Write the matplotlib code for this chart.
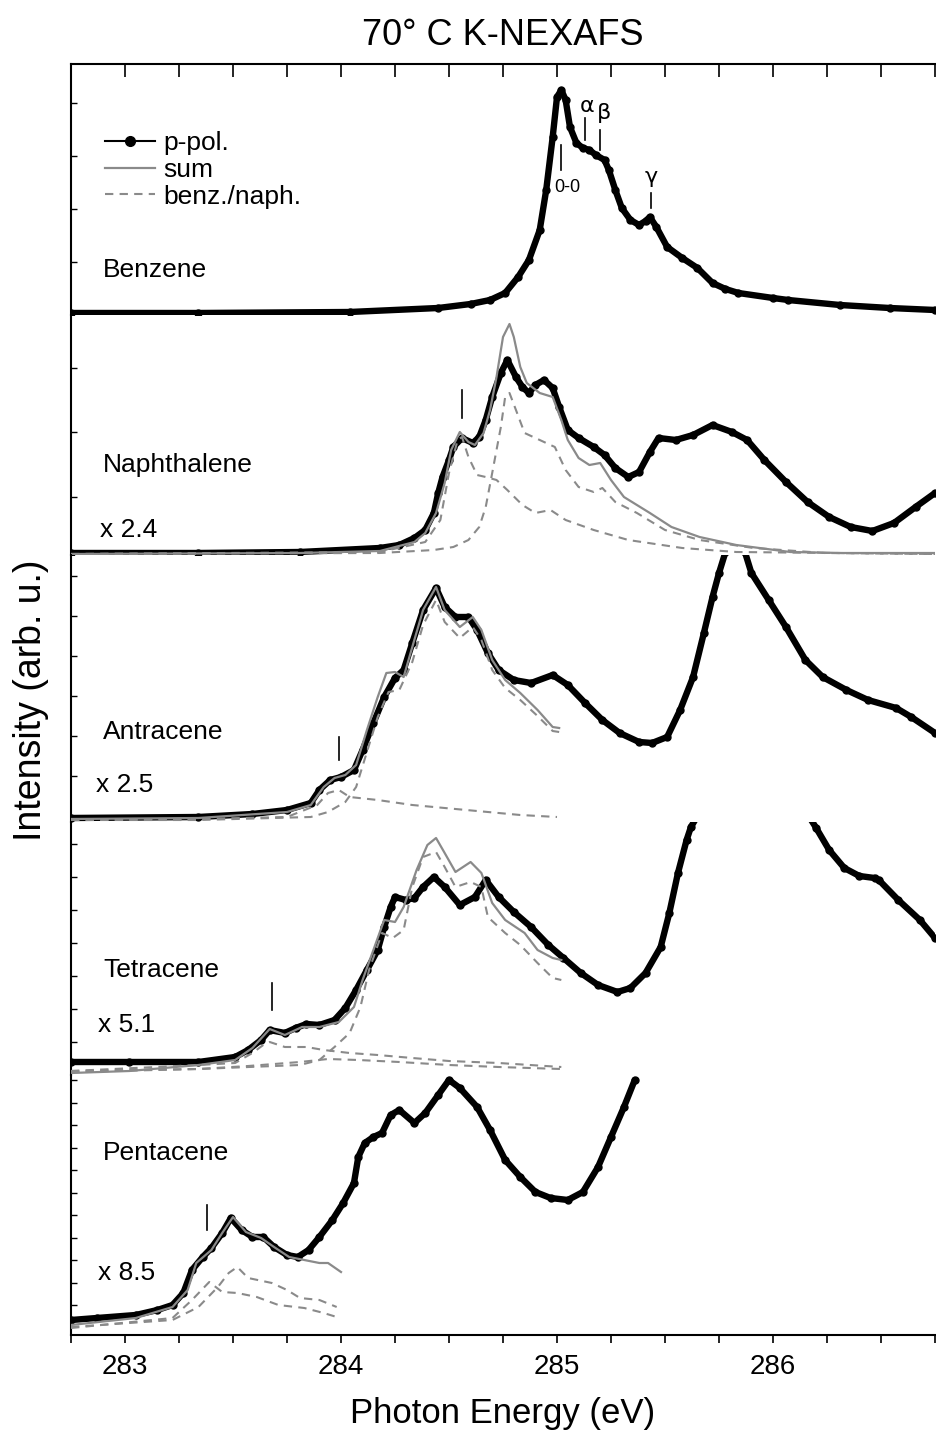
import numpy as np
import matplotlib.pyplot as plt
from matplotlib.lines import Line2D
from matplotlib.ticker import MultipleLocator, FixedLocator

plt.rcParams['font.family'] = ['Liberation Sans', 'DejaVu Sans']

# ---------------- data: photon energy (eV) / intensity (arb. u.) ----------------
# Benzene
benz_E = [282.75, 283.34, 284.04, 284.45, 284.60, 284.69, 284.76, 284.82, 284.87, 284.92, 284.95,
          284.98, 285.00, 285.02, 285.04, 285.06, 285.09, 285.12, 285.15, 285.18, 285.22,
          285.24, 285.27, 285.30, 285.34, 285.38, 285.41, 285.43, 285.46, 285.51, 285.58, 285.65,
          285.72, 285.78, 285.84, 286.00, 286.07, 286.31, 286.54, 286.75]
benz_I = [0.02, 0.02, 0.03, 0.07, 0.11, 0.15, 0.22, 0.38, 0.55, 0.85, 1.25,
          1.78, 2.18, 2.25, 2.15, 1.88, 1.72, 1.67, 1.65, 1.60, 1.55,
          1.45, 1.25, 1.07, 0.95, 0.90, 0.94, 0.98, 0.88, 0.68, 0.57, 0.47,
          0.32, 0.26, 0.22, 0.17, 0.15, 0.10, 0.07, 0.05]

# Naphthalene
naph_E = [282.75, 283.34, 283.81, 284.18, 284.27, 284.34, 284.39, 284.43, 284.45, 284.47,
          284.50, 284.52, 284.56, 284.61, 284.64, 284.67, 284.70, 284.74, 284.77, 284.81,
          284.84, 284.87, 284.90, 284.94, 284.98, 285.01, 285.05, 285.10, 285.17, 285.22,
          285.27, 285.33, 285.38, 285.43, 285.47, 285.55, 285.63, 285.72, 285.81, 285.88,
          285.96, 286.06, 286.16, 286.26, 286.36, 286.46, 286.56, 286.66, 286.75]
naph_I = [0.02, 0.02, 0.03, 0.07, 0.10, 0.17, 0.25, 0.42, 0.62, 0.78,
          0.95, 1.08, 1.17, 1.12, 1.18, 1.35, 1.58, 1.82, 1.95, 1.78,
          1.68, 1.62, 1.70, 1.75, 1.67, 1.48, 1.25, 1.17, 1.08, 1.00,
          0.87, 0.78, 0.83, 1.03, 1.17, 1.15, 1.20, 1.30, 1.23, 1.15,
          0.95, 0.73, 0.53, 0.38, 0.28, 0.24, 0.32, 0.48, 0.62]
naph_sum_E = [282.75, 283.81, 284.18, 284.34, 284.39, 284.44, 284.48, 284.51, 284.55, 284.59,
              284.62, 284.66, 284.69, 284.72, 284.75, 284.78, 284.80, 284.83, 284.86, 284.92,
              284.98, 285.02, 285.05, 285.10, 285.15, 285.20, 285.25, 285.31, 285.43, 285.53,
              285.66, 285.83, 286.08, 286.32, 286.75]
naph_sum_I = [0.01, 0.02, 0.04, 0.13, 0.22, 0.42, 0.72, 1.05, 1.23, 1.13,
              1.10, 1.22, 1.45, 1.78, 2.18, 2.31, 2.18, 1.88, 1.72, 1.62,
              1.58, 1.35, 1.15, 0.97, 0.90, 0.92, 0.75, 0.58, 0.42, 0.28,
              0.18, 0.10, 0.03, 0.02, 0.02]
naph_c1_E = [282.75, 284.18, 284.43, 284.52, 284.59, 284.64, 284.67, 284.70, 284.74, 284.76,
             284.78, 284.81, 284.85, 284.90, 284.99, 285.04, 285.10, 285.17, 285.21, 285.27,
             285.37, 285.50, 285.66, 285.91, 286.24, 286.75]
naph_c1_I = [0.01, 0.02, 0.05, 0.08, 0.15, 0.28, 0.48, 0.82, 1.28, 1.58,
             1.62, 1.45, 1.22, 1.17, 1.08, 0.85, 0.68, 0.63, 0.67, 0.53,
             0.42, 0.25, 0.15, 0.07, 0.02, 0.01]
naph_c2_E = [282.75, 284.18, 284.39, 284.46, 284.50, 284.54, 284.56, 284.59, 284.63, 284.67,
             284.72, 284.77, 284.84, 284.90, 284.97, 285.04, 285.17, 285.33, 285.58, 285.83,
             286.75]
naph_c2_I = [0.01, 0.03, 0.13, 0.35, 0.82, 1.15, 1.18, 0.98, 0.80, 0.78,
             0.75, 0.65, 0.50, 0.42, 0.45, 0.35, 0.25, 0.15, 0.07, 0.03,
             0.01]

# Antracene
antr_E = [282.75, 283.34, 283.59, 283.75, 283.86, 283.90, 283.95, 284.00, 284.06, 284.10,
          284.15, 284.20, 284.25, 284.29, 284.33, 284.38, 284.44, 284.48, 284.53, 284.59,
          284.63, 284.68, 284.73, 284.80, 284.88, 284.98, 285.05, 285.13, 285.21, 285.29,
          285.38, 285.44, 285.51, 285.57, 285.63, 285.68, 285.72, 285.75, 285.78, 285.83,
          285.87, 285.90, 285.98, 286.06, 286.15, 286.23, 286.34, 286.44, 286.57, 286.64,
          286.75]
antr_I = [0.04, 0.05, 0.08, 0.12, 0.19, 0.32, 0.42, 0.45, 0.52, 0.72,
          0.99, 1.25, 1.44, 1.52, 1.79, 2.12, 2.34, 2.15, 2.05, 2.05,
          1.92, 1.69, 1.52, 1.42, 1.39, 1.47, 1.37, 1.19, 1.02, 0.89,
          0.80, 0.79, 0.85, 1.12, 1.45, 1.89, 2.25, 2.49, 2.70, 3.00,
          2.70, 2.49, 2.22, 1.95, 1.62, 1.45, 1.32, 1.22, 1.14, 1.05,
          0.89]
antr_sum_E = [282.75, 283.34, 283.75, 283.86, 283.92, 283.97, 284.02, 284.07, 284.12, 284.17,
              284.21, 284.25, 284.29, 284.33, 284.38, 284.44, 284.48, 284.55, 284.61, 284.65,
              284.70, 284.76, 284.83, 284.91, 284.98, 285.01]
antr_sum_I = [0.03, 0.04, 0.10, 0.17, 0.35, 0.44, 0.47, 0.57, 0.92, 1.25,
              1.49, 1.50, 1.45, 1.75, 2.12, 2.35, 2.12, 1.95, 2.05, 1.92,
              1.62, 1.42, 1.29, 1.12, 0.95, 0.94]
antr_c1_E = [282.75, 283.34, 283.86, 283.94, 284.02, 284.07, 284.12, 284.17, 284.22, 284.27,
             284.33, 284.38, 284.44, 284.48, 284.55, 284.61, 284.65, 284.70, 284.76, 284.83,
             284.91, 284.98, 285.01]
antr_c1_I = [0.02, 0.02, 0.05, 0.10, 0.20, 0.35, 0.70, 1.05, 1.30, 1.32,
             1.60, 1.97, 2.22, 2.00, 1.84, 1.95, 1.82, 1.52, 1.34, 1.22,
             1.06, 0.91, 0.90]
antr_c2_E = [282.75, 283.34, 283.75, 283.89, 283.94, 283.99, 284.04, 284.17, 284.33, 284.58,
             284.83, 285.00]
antr_c2_I = [0.02, 0.03, 0.05, 0.17, 0.29, 0.32, 0.25, 0.22, 0.17, 0.12,
             0.07, 0.05]

# Tetracene
tetr_E = [282.75, 283.02, 283.34, 283.51, 283.57, 283.63, 283.67, 283.74, 283.79, 283.84,
          283.90, 283.97, 284.02, 284.07, 284.12, 284.17, 284.20, 284.23, 284.25, 284.30,
          284.34, 284.38, 284.43, 284.48, 284.55, 284.62, 284.67, 284.73, 284.80, 284.88,
          284.96, 285.03, 285.11, 285.19, 285.28, 285.34, 285.41, 285.48, 285.52, 285.56,
          285.60, 285.62, 285.90, 286.20, 286.26, 286.33, 286.40, 286.47, 286.49, 286.58,
          286.68, 286.75]
tetr_I = [0.13, 0.13, 0.13, 0.18, 0.25, 0.35, 0.45, 0.42, 0.47, 0.51,
          0.50, 0.55, 0.67, 0.85, 1.05, 1.25, 1.48, 1.68, 1.78, 1.75,
          1.77, 1.88, 1.98, 1.88, 1.70, 1.78, 1.95, 1.78, 1.63, 1.48,
          1.30, 1.17, 1.02, 0.90, 0.83, 0.87, 1.02, 1.28, 1.62, 2.02,
          2.35, 2.48, 3.50, 2.47, 2.25, 2.07, 1.99, 1.97, 1.95, 1.75,
          1.55, 1.37]
tetr_sum_E = [282.75, 283.02, 283.34, 283.51, 283.59, 283.67, 283.74, 283.82, 283.90, 283.99,
              284.06, 284.10, 284.15, 284.20, 284.25, 284.29, 284.35, 284.40, 284.44, 284.48,
              284.53, 284.60, 284.65, 284.70, 284.76, 284.85, 284.91, 284.98, 285.02]
tetr_sum_I = [0.02, 0.04, 0.10, 0.15, 0.27, 0.46, 0.40, 0.48, 0.48, 0.53,
              0.68, 0.95, 1.25, 1.55, 1.53, 1.68, 2.05, 2.30, 2.37, 2.22,
              2.03, 2.13, 2.02, 1.72, 1.55, 1.42, 1.25, 1.17, 1.15]
tetr_c1_E = [282.75, 283.34, 283.81, 283.90, 283.97, 284.04, 284.09, 284.13, 284.19, 284.24,
             284.29, 284.33, 284.38, 284.44, 284.48, 284.53, 284.60, 284.65, 284.68, 284.76,
             284.83, 284.91, 284.98, 285.02]
tetr_c1_I = [0.04, 0.06, 0.10, 0.15, 0.28, 0.42, 0.68, 1.05, 1.42, 1.37,
             1.45, 1.88, 2.18, 2.23, 2.08, 1.88, 1.93, 1.88, 1.58, 1.42,
             1.30, 1.12, 0.97, 0.95]
tetr_c2_E = [282.75, 283.34, 283.51, 283.59, 283.64, 283.67, 283.74, 283.84, 283.92, 284.04,
             284.17, 284.33, 284.50, 284.73, 285.02]
tetr_c2_I = [0.04, 0.10, 0.12, 0.22, 0.30, 0.33, 0.28, 0.28, 0.25, 0.22,
             0.20, 0.17, 0.14, 0.12, 0.08]
tetr_c3_E = [282.75, 283.34, 283.57, 283.81, 283.94, 284.08, 284.27, 284.50, 284.73, 285.02]
tetr_c3_I = [0.03, 0.06, 0.09, 0.13, 0.16, 0.15, 0.13, 0.10, 0.08, 0.06]

# Pentacene
pent_E = [282.75, 282.87, 283.05, 283.15, 283.22, 283.27, 283.31, 283.36, 283.40, 283.45,
          283.49, 283.54, 283.59, 283.64, 283.69, 283.75, 283.80, 283.85, 283.90, 283.96,
          284.01, 284.06, 284.08, 284.11, 284.15, 284.19, 284.23, 284.27, 284.34, 284.39,
          284.45, 284.50, 284.55, 284.63, 284.69, 284.76, 284.83, 284.90, 284.97, 285.05,
          285.12, 285.19, 285.25, 285.31, 285.36]
pent_I = [0.15, 0.17, 0.20, 0.25, 0.30, 0.42, 0.65, 0.78, 0.87, 1.02,
          1.17, 1.05, 0.98, 0.98, 0.88, 0.80, 0.78, 0.85, 0.98, 1.15,
          1.32, 1.52, 1.78, 1.92, 1.98, 2.02, 2.20, 2.25, 2.12, 2.22,
          2.40, 2.55, 2.47, 2.28, 2.05, 1.75, 1.58, 1.43, 1.37, 1.35,
          1.43, 1.68, 1.98, 2.28, 2.55]
pent_sum_E = [282.75, 283.05, 283.22, 283.29, 283.33, 283.40, 283.45, 283.50, 283.56, 283.63,
              283.69, 283.76, 283.83, 283.90, 283.94, 284.00]
pent_sum_I = [0.10, 0.17, 0.28, 0.45, 0.72, 0.85, 1.02, 1.18, 1.03, 0.97,
              0.88, 0.78, 0.75, 0.72, 0.72, 0.63]
pent_c1_E = [282.75, 283.22, 283.34, 283.43, 283.48, 283.52, 283.57, 283.68, 283.75, 283.81,
             283.90, 283.98]
pent_c1_I = [0.08, 0.15, 0.28, 0.48, 0.62, 0.68, 0.57, 0.52, 0.45, 0.37,
             0.35, 0.28]
pent_c2_E = [282.75, 283.22, 283.31, 283.39, 283.45, 283.52, 283.61, 283.71, 283.83, 283.92,
             283.98]
pent_c2_I = [0.07, 0.17, 0.35, 0.53, 0.43, 0.42, 0.38, 0.30, 0.27, 0.22,
             0.18]

names = ['Benzene', 'Naphthalene', 'Antracene', 'Tetracene', 'Pentacene']
factors = ['', 'x 2.4', 'x 2.5', 'x 5.1', 'x 8.5']

ppol = [(benz_E, benz_I), (naph_E, naph_I), (antr_E, antr_I), (tetr_E, tetr_I), (pent_E, pent_I)]
sums = [None, (naph_sum_E, naph_sum_I), (antr_sum_E, antr_sum_I),
        (tetr_sum_E, tetr_sum_I), (pent_sum_E, pent_sum_I)]
comps = [[],
         [(naph_c1_E, naph_c1_I), (naph_c2_E, naph_c2_I)],
         [(antr_c1_E, antr_c1_I), (antr_c2_E, antr_c2_I)],
         [(tetr_c1_E, tetr_c1_I), (tetr_c2_E, tetr_c2_I), (tetr_c3_E, tetr_c3_I)],
         [(pent_c1_E, pent_c1_I), (pent_c2_E, pent_c2_I)]]

# onset markers (energy, y from, y to)
onset = [None, (284.56, 1.37, 1.65), (283.99, 0.62, 0.85), (283.68, 0.65, 0.92), (283.38, 1.05, 1.30)]

# benzene vibronic marks: label, line energy, line y0, y1, text energy, text y, size
vib = [('0-0', 285.02, 1.45, 1.70, 285.05, 1.28, 13),
       ('α', 285.13, 1.75, 1.97, 285.14, 2.09, 16),
       ('β', 285.20, 1.65, 1.85, 285.22, 2.02, 16),
       ('γ', 285.435, 1.07, 1.22, 285.435, 1.38, 16)]

# ---------------- layout ----------------
W, H = 937, 1436
fig = plt.figure(figsize=(W / 100, H / 100), dpi=100)


def fx(px):
    return px / W


def fy(py):
    return 1 - py / H


edges = [64, 315, 555, 822, 1075, 1335]
xl, xr = 71, 935
ytick_sets = [np.arange(0.53, 2.5, 0.53),
              np.arange(0.58, 2.4, 0.645),
              np.arange(0.46, 2.67, 0.40),
              np.arange(0.33, 2.53, 0.33),
              np.arange(0.30, 2.6, 0.225)]
label_pos = [(103, 270, None), (103, 465, (100, 530)), (103, 732, (96, 785)),
             (103, 970, (98, 1025)), (103, 1153, (98, 1273))]

gray = '#8a8a8a'
axes = []
for i in range(5):
    top, bot = edges[i], edges[i + 1]
    ax = fig.add_axes([fx(xl), fy(bot), fx(xr) - fx(xl), (bot - top) / H])
    ax.set_xlim(282.75, 286.75)
    ax.set_ylim(0, (bot - top) / 100)
    ax.patch.set_alpha(0)
    ax.spines['right'].set_visible(False)
    ax.spines['top'].set_visible(i == 0)
    ax.spines['bottom'].set_visible(i == 4)
    for s in ax.spines.values():
        s.set_linewidth(1.5)

    ax.yaxis.set_major_locator(FixedLocator(ytick_sets[i]))
    ax.tick_params(axis='y', which='both', direction='in', length=4, width=1, labelleft=False)
    ax.xaxis.set_major_locator(MultipleLocator(1))
    ax.xaxis.set_minor_locator(MultipleLocator(0.25))
    if i == 0:
        ax.tick_params(axis='x', which='both', bottom=False, top=True, direction='in',
                       length=9, width=1.2, labelbottom=False)
    elif i == 4:
        ax.tick_params(axis='x', which='both', direction='out', length=6, width=1.2,
                       labelsize=20, pad=8)
    else:
        ax.tick_params(axis='x', which='both', bottom=False, labelbottom=False)

    for cE, cI in comps[i]:
        ax.plot(cE, cI, color=gray, lw=1.5, dashes=(4, 3), zorder=3)
    E, I = ppol[i]
    ax.plot(E, I, color='k', lw=4.6, marker='o', ms=5, zorder=2,
            solid_capstyle='round', solid_joinstyle='round')
    if sums[i] is not None:
        ax.plot(sums[i][0], sums[i][1], color=gray, lw=1.6, zorder=4)
    if onset[i] is not None:
        e0, y0, y1 = onset[i]
        ax.plot([e0, e0], [y0, y1], color='k', lw=1.2, zorder=5)

    nx, ny, fac = label_pos[i]
    fig.text(fx(nx), fy(ny), names[i], fontsize=19, va='center', ha='left')
    if fac is not None:
        fig.text(fx(fac[0]), fy(fac[1]), factors[i], fontsize=19, va='center', ha='left')
    axes.append(ax)

# benzene vibronic labels
for lab, e, y0, y1, te, ty, fs in vib:
    axes[0].plot([e, e], [y0, y1], color='k', lw=1.2, zorder=5)
    axes[0].text(te, ty, lab, fontsize=fs, ha='center', va='center',
                 family=['DejaVu Sans'] if lab != '0-0' else ['Liberation Sans'])

# legend
handles = [Line2D([], [], color='k', lw=1.5, marker='o', ms=7),
           Line2D([], [], color=gray, lw=1.6),
           Line2D([], [], color=gray, lw=1.5, dashes=(4, 3))]
axes[0].legend(handles, ['p-pol.', 'sum', 'benz./naph.'], loc='center left',
               bbox_to_anchor=(fx(105), fy(170)), bbox_transform=fig.transFigure,
               frameon=False, fontsize=19, handlelength=1.9, handletextpad=0.3,
               labelspacing=0.1, borderpad=0, borderaxespad=0, numpoints=1)

xc = fx((xl + xr) / 2)
fig.text(xc, fy(45), '70° C K-NEXAFS', fontsize=26, ha='center', va='baseline')
fig.text(xc, fy(1423), 'Photon Energy (eV)', fontsize=25, ha='center', va='baseline')
fig.text(fx(31), fy(700), 'Intensity (arb. u.)', fontsize=27, rotation=90,
         ha='center', va='center')

fig.savefig('out.png', dpi=100)
